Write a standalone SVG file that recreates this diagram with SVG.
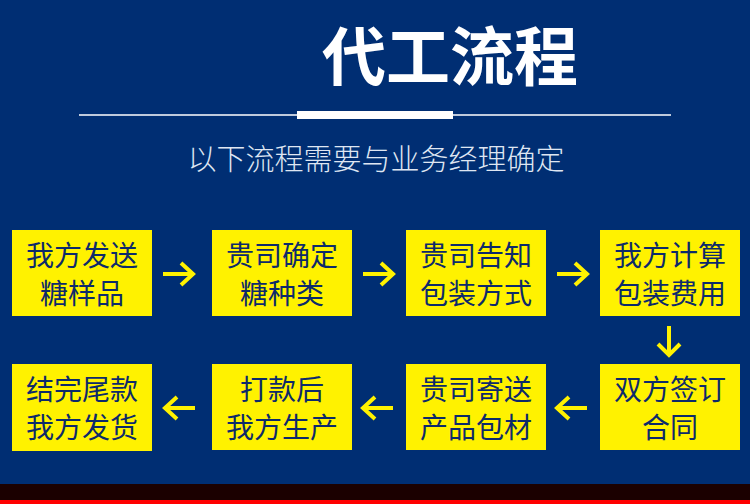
<svg xmlns="http://www.w3.org/2000/svg" width="750" height="504" viewBox="0 0 750 504">
<style>
.box{fill:#fff200}
.t{font-family:"Noto Sans CJK SC","Noto Sans",sans-serif;font-size:28px;fill:#0d2a6b;text-anchor:middle}
.arr{fill:none;stroke:#fff200;stroke-width:4}
</style>
<rect width="750" height="504" fill="#002e73"/>
<rect y="484" width="750" height="16" fill="#1b0000"/>
<rect y="500" width="750" height="4" fill="#ff0000"/>
<text x="450" y="80" font-family="Noto Sans CJK SC,sans-serif" font-size="64" font-weight="bold" fill="#fff" text-anchor="middle">代工流程</text>
<line x1="79" y1="115" x2="671" y2="115" stroke="#fff" stroke-width="1.5"/>
<rect x="297" y="111" width="156" height="8" fill="#fff"/>
<text x="376" y="170" font-family="Noto Sans CJK SC,sans-serif" font-size="29" font-weight="300" fill="#dfe6f2" text-anchor="middle">以下流程需要与业务经理确定</text>
<g id="n1"><rect class="box" x="12" y="230" width="140" height="86"/><text class="t" x="82" y="266">我方发送</text><text class="t" x="82" y="304">糖样品</text></g>
<g id="n2"><rect class="box" x="212" y="230" width="140" height="86"/><text class="t" x="282" y="266">贵司确定</text><text class="t" x="282" y="304">糖种类</text></g>
<g id="n3"><rect class="box" x="406" y="230" width="140" height="86"/><text class="t" x="476" y="266">贵司告知</text><text class="t" x="476" y="304">包装方式</text></g>
<g id="n4"><rect class="box" x="600" y="230" width="140" height="86"/><text class="t" x="670" y="266">我方计算</text><text class="t" x="670" y="304">包装费用</text></g>
<g id="n5"><rect class="box" x="600" y="364" width="140" height="86"/><text class="t" x="670" y="400">双方签订</text><text class="t" x="670" y="438">合同</text></g>
<g id="n6"><rect class="box" x="406" y="364" width="140" height="86"/><text class="t" x="476" y="400">贵司寄送</text><text class="t" x="476" y="438">产品包材</text></g>
<g id="n7"><rect class="box" x="212" y="364" width="140" height="86"/><text class="t" x="282" y="400">打款后</text><text class="t" x="282" y="438">我方生产</text></g>
<g id="n8"><rect class="box" x="12" y="364" width="140" height="87"/><text class="t" x="82" y="400">结完尾款</text><text class="t" x="82" y="438">我方发货</text></g>
<g id="connectors">
<path class="arr" d="M163 274H193M181 263L193 274L181 285"/>
<path class="arr" d="M363 274H393M381 263L393 274L381 285"/>
<path class="arr" d="M557 274H587M575 263L587 274L575 285"/>
<path class="arr" d="M669 326V355M658 344L669 355L680 344"/>
<path class="arr" d="M587 408H557M569 397L557 408L569 419"/>
<path class="arr" d="M393 408H363M375 397L363 408L375 419"/>
<path class="arr" d="M195 408H165M177 397L165 408L177 419"/>
</g>
</svg>
